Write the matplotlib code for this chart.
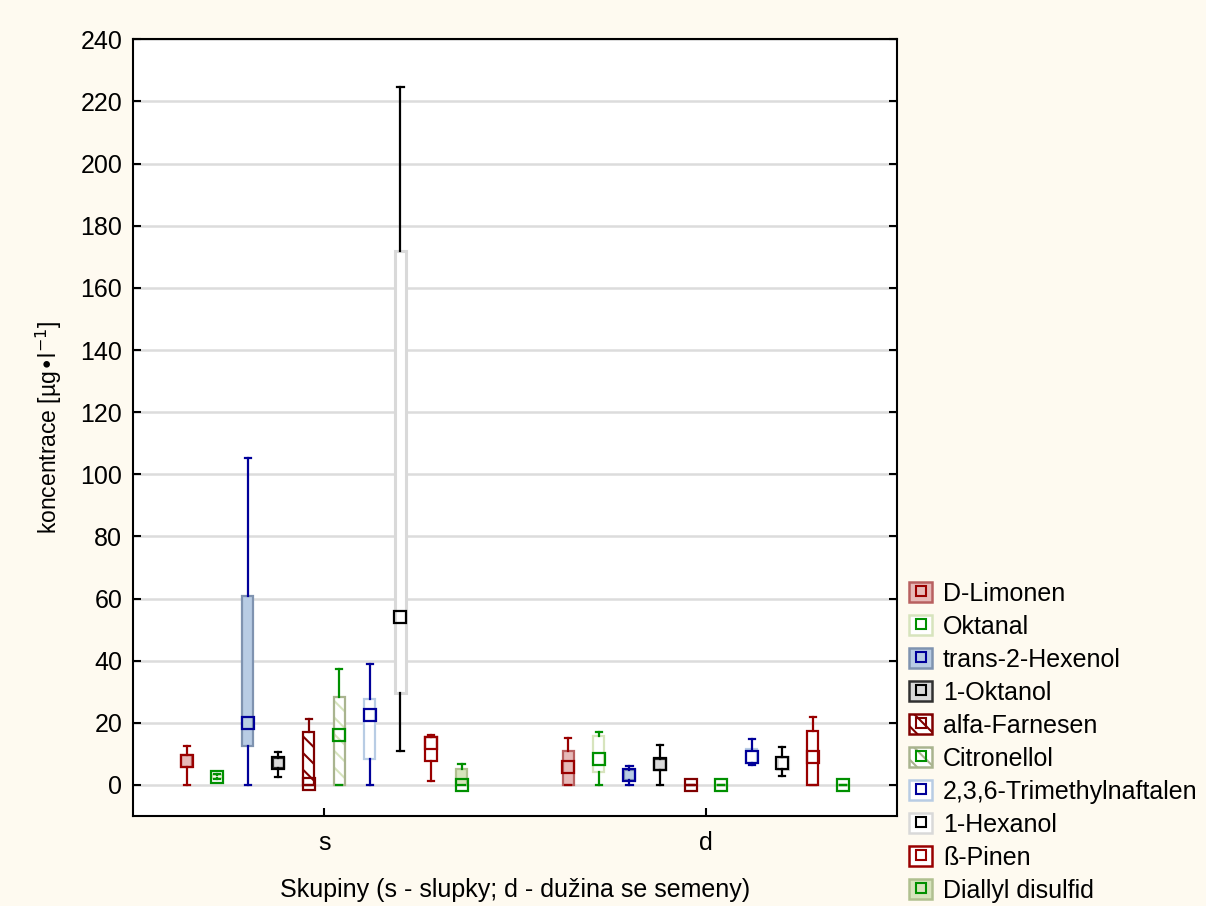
import matplotlib
matplotlib.use("Agg")
import matplotlib.pyplot as plt
from matplotlib.patches import Patch
from matplotlib.lines import Line2D

plt.rcParams['font.family'] = ['Liberation Sans', 'DejaVu Sans']
plt.rcParams['hatch.linewidth'] = 1.5

# data
groups = ['s', 'd']
names = ['D-Limonen', 'Oktanal', 'trans-2-Hexenol', '1-Oktanol', 'alfa-Farnesen',
         'Citronellol', '2,3,6-Trimethylnaftalen', '1-Hexanol', 'ß-Pinen', 'Diallyl disulfid']

# per compound: [s, d]
med = [[7.8, 5.9], [2.7, 8.4], [20.0, 3.2], [7.0, 6.6], [0.3, 0.0],
       [16.1, 0.0], [22.5, 8.9], [54.1, 7.2], [13.4, 9.1], [0.0, 0.0]]
q1 = [[5.8, 0.0], [2.2, 4.1], [12.6, 1.6], [5.3, 4.8], [0.0, 0.0],
      [0.0, 0.0], [8.3, 7.0], [29.5, 5.1], [7.8, 0.0], [0.0, 0.0]]
q3 = [[9.7, 11.0], [3.2, 15.6], [60.8, 4.8], [8.6, 8.3], [17.2, 0.0],
      [28.4, 0.0], [27.6, 11.6], [171.9, 9.1], [15.5, 17.4], [5.1, 0.0]]
lo = [[0.0, 0.0], [2.0, 0.0], [0.0, 0.0], [2.5, 0.0], [0.0, 0.0],
      [0.0, 0.0], [0.0, 6.4], [11.0, 3.0], [1.4, 0.0], [0.0, 0.0]]
hi = [[12.6, 15.0], [3.5, 17.2], [105.2, 6.1], [10.5, 12.9], [21.2, 0.0],
      [37.2, 0.0], [38.9, 14.8], [224.7, 12.1], [16.1, 22.0], [6.6, 0.0]]

# styles
line_col = ['#990000', '#009000', '#000099', '#000000', '#800000',
            '#009000', '#000099', '#000000', '#990000', '#009000']
face_col = ['#e6b9b8', 'white', '#b8cce4', '#d9d9d9', 'white',
            'white', 'white', 'white', 'white', '#d7e4bd']
edge_col = ['#b86060', '#d7e4bd', '#7f93b0', '#303030', '#800000',
            '#a9b48f', '#b8cce4', '#d9d9d9', '#990000', '#b0c090']
hatches = ['', '', '', '', '\\\\', '\\\\', '', '', '', '']
hatch_col = ['', '', '', '', '#800000', '#d7e4bd', '', '', '', '']

fig = plt.figure(figsize=(12.06, 9.06), dpi=100, facecolor='#fefaf0')
ax = fig.add_axes([0.1105, 0.0993, 0.633, 0.8573])
ax.set_facecolor('white')

step = 0.08
width = 0.029
for i, name in enumerate(names):
    off = (i - 4.5) * step
    pos = [g + 1 + off for g in range(len(groups))]
    stats = []
    for g in range(len(groups)):
        stats.append(dict(med=med[i][g], q1=q1[i][g], q3=q3[i][g],
                          whislo=lo[i][g], whishi=hi[i][g], fliers=[]))
    if hatches[i]:
        ax.bar(pos, [q3[i][g] - q1[i][g] for g in range(2)],
               bottom=[q1[i][g] for g in range(2)], width=width,
               facecolor='white', edgecolor=hatch_col[i], hatch=hatches[i],
               linewidth=0, zorder=1.9)
        fc = 'none'
    else:
        fc = face_col[i]
    lw_box = 2.2 if name == '1-Hexanol' else 1.6
    ax.bxp(stats, positions=pos, widths=width, capwidths=0.016,
           patch_artist=True, showfliers=False, manage_ticks=False,
           boxprops=dict(facecolor=fc, edgecolor=edge_col[i], linewidth=lw_box),
           whiskerprops=dict(color=line_col[i], linewidth=1.6),
           capprops=dict(color=line_col[i], linewidth=1.6),
           medianprops=dict(linewidth=0))
    ax.plot(pos, [med[i][g] for g in range(2)], ls='none', marker='s',
            ms=8, mfc='none', mec=line_col[i], mew=1.6, zorder=3)

ax.set_xlim(0.5, 2.5)
ax.set_ylim(-10, 240)
ax.set_yticks(range(0, 241, 20))
ax.set_xticks([1, 2])
ax.set_xticklabels(groups)
ax.yaxis.grid(True, color='#dcdcdc', linewidth=1.8)
ax.set_axisbelow(True)
for sp in ax.spines.values():
    sp.set_linewidth(1.5)
ax.tick_params(direction='in', length=6, width=1.5, right=True, labelsize=18)
ax.tick_params(axis='x', pad=11)
ax.tick_params(axis='y', pad=8)

ax.set_ylabel('koncentrace [µg•l$^{-1}$]', fontsize=16.5, labelpad=12)
ax.set_xlabel('Skupiny (s - slupky; d - dužina se semeny)', fontsize=18, labelpad=16)

handles = []
for i in range(len(names)):
    p = Patch(facecolor=face_col[i], edgecolor=edge_col[i], hatch=hatches[i], linewidth=1.8)
    m = Line2D([], [], ls='none', marker='s', ms=7, mfc='none', mec=line_col[i], mew=1.5)
    handles.append((p, m))
fig.legend(handles, names, loc='upper left', bbox_to_anchor=(0.754, 0.358),
           frameon=False, fontsize=18, handlelength=0.9, handleheight=0.9,
           handletextpad=0.45, labelspacing=0.36, borderaxespad=0, borderpad=0)

fig.savefig('out.png', dpi=100, facecolor=fig.get_facecolor())
